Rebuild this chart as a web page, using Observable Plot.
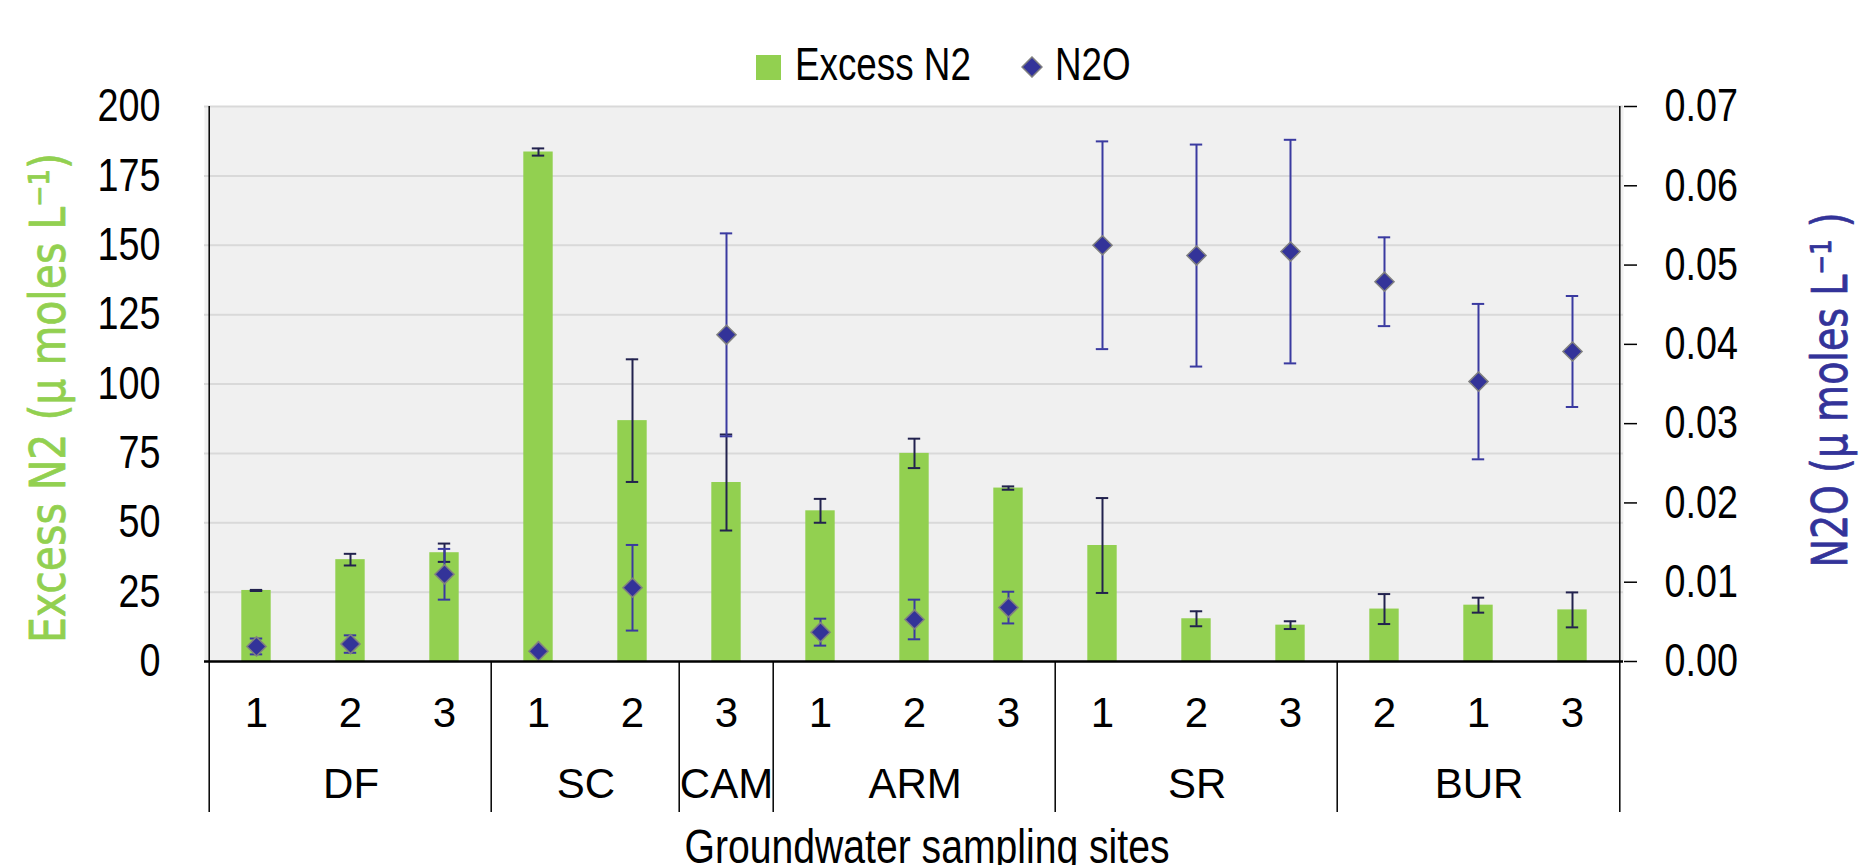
<!DOCTYPE html>
<html>
<head>
<meta charset="utf-8">
<script src="https://cdn.jsdelivr.net/npm/d3@7"></script>
<script src="https://cdn.jsdelivr.net/npm/@observablehq/plot@0.6"></script>
<style>
  html, body { margin: 0; padding: 0; background: #fff; }
  #wrap { position: relative; width: 1864px; height: 865px; overflow: hidden; }
  #legend { position: absolute; left: 0; top: 0; width: 1864px; height: 100px; font-family: "Liberation Sans", Arial, sans-serif; font-size: 46px; color: #000; }
  .lg { position: absolute; line-height: 1; white-space: nowrap; }
  .nar { transform: scaleX(0.8); transform-origin: 0 0; }
</style>
</head>
<body>
<div id="wrap">
  <div id="chart"></div>
  <div id="legend">
    <div class="lg" style="left:756px; top:55px; width:25px; height:25px; background:#92d050;"></div>
    <div class="lg nar" style="left:795px; top:41px;">Excess N2</div>
    <svg class="lg" style="left:1021px; top:56px;" width="22" height="22"><polygon points="11,1 21,11 11,21 1,11" fill="#333399" stroke="#808080" stroke-width="1.5"/></svg>
    <div class="lg nar" style="left:1055px; top:41px;">N2O</div>
  </div>
</div>
<script>
// ---- data ----
const sites = ["DF","DF","DF","SC","SC","CAM","ARM","ARM","ARM","SR","SR","SR","BUR","BUR","BUR"];
const sampleNums = ["1","2","3","1","2","3","1","2","3","1","2","3","2","1","3"];
const excessN2 = [25.6, 36.7, 39.2, 183.6, 86.8, 64.5, 54.3, 75.0, 62.5, 41.8, 15.4, 13.1, 18.9, 20.3, 18.6];
const excessN2Err = [0.2, 2.1, 3.3, 1.3, 22.1, 17.3, 4.3, 5.3, 0.6, 17.1, 2.7, 1.4, 5.4, 2.7, 6.3];
const n2o = [0.0019, 0.0022, 0.0110, 0.0013, 0.0093, 0.0412, 0.0037, 0.0053, 0.0068, 0.0525, 0.0512, 0.0517, 0.0479, 0.0353, 0.0391];
const n2oErr = [0.0010, 0.0011, 0.0032, 0.0002, 0.0054, 0.0128, 0.0017, 0.0025, 0.0020, 0.0131, 0.0140, 0.0141, 0.0056, 0.0098, 0.0070];
const n2Ticks = [0, 25, 50, 75, 100, 125, 150, 175, 200];
const n2oTicks = [0, 0.01, 0.02, 0.03, 0.04, 0.05, 0.06, 0.07];
const leftTitle = "Excess N2 (µ moles L⁻¹)";
const rightTitle = "N2O (µ moles L⁻¹ )";
const xTitle = "Groundwater sampling sites";

// ---- derived ----
const n2Max = 200, n2oMax = 0.07, k = n2Max / n2oMax;
const keys = sites.map((s, i) => s + "-" + i);
const numByKey = new Map(keys.map((key, i) => [key, sampleNums[i]]));
const rows = keys.map((key, i) => ({
  key, n2: excessN2[i], n2lo: excessN2[i] - excessN2Err[i], n2hi: excessN2[i] + excessN2Err[i],
  n2o: n2o[i] * k, n2olo: (n2o[i] - n2oErr[i]) * k, n2ohi: (n2o[i] + n2oErr[i]) * k
}));
const groups = [];
sites.forEach((s, i) => {
  if (groups.length && groups[groups.length - 1].name === s) groups[groups.length - 1].n++;
  else groups.push({name: s, first: i, n: 1});
});

const W = 1864, H = 865, mL = 204, mR = 241, mT = 106, mB = 204;
const step = (W - mL - mR) / keys.length;
const frameH = H - mT - mB;
const capInset = (step - 13) / 2;
const barInset = (step - 30) / 2;
const regular = "'Liberation Sans', Arial, sans-serif";
const titleFont = "'DejaVu Sans', sans-serif";
const n2ErrColor = "#22224e", n2oErrColor = "#3a3aa0";

const dividerOpts = {insetTop: frameH, insetBottom: -151, stroke: "#000", strokeWidth: 1.5};

const plot = Plot.plot({
  width: W, height: H, marginLeft: mL, marginRight: mR, marginTop: mT, marginBottom: mB,
  style: {background: "transparent", fontFamily: regular, color: "#000"},
  x: {type: "band", domain: keys, padding: 0, axis: null},
  y: {domain: [0, n2Max], axis: null},
  marks: [
    Plot.frame({fill: "#f0f0f0", stroke: null}),
    Plot.ruleY(n2Ticks.filter(d => d > 0), {stroke: "#d9d9d9", strokeWidth: 2}),
    Plot.barY(rows, {x: "key", y: "n2", fill: "#92d050", insetLeft: barInset, insetRight: barInset}),
    // Excess N2 error bars
    Plot.ruleX(rows, {x: "key", y1: "n2lo", y2: "n2hi", stroke: n2ErrColor, strokeWidth: 2}),
    Plot.tickY(rows, {x: "key", y: "n2hi", stroke: n2ErrColor, strokeWidth: 2, insetLeft: capInset, insetRight: capInset}),
    Plot.tickY(rows, {x: "key", y: "n2lo", stroke: n2ErrColor, strokeWidth: 2, insetLeft: capInset, insetRight: capInset}),
    // N2O error bars
    Plot.ruleX(rows, {x: "key", y1: "n2olo", y2: "n2ohi", stroke: n2oErrColor, strokeWidth: 2}),
    Plot.tickY(rows, {x: "key", y: "n2ohi", stroke: n2oErrColor, strokeWidth: 2, insetLeft: capInset, insetRight: capInset}),
    Plot.tickY(rows, {x: "key", y: "n2olo", stroke: n2oErrColor, strokeWidth: 2, insetLeft: capInset, insetRight: capInset}),
    Plot.dot(rows, {x: "key", y: "n2o", symbol: "diamond2", r: 8.6, fill: "#333399", stroke: "#808080", strokeWidth: 1.5}),
    // baseline
    Plot.ruleY([0], {stroke: "#000", strokeWidth: 2.5}),
    // axes
    Plot.axisY({ticks: n2Ticks, tickSize: 0, tickPadding: 44, fontSize: 46, label: null, ariaLabel: "narrow-y"}),
    Plot.axisY({anchor: "right", ticks: n2oTicks.map(v => v * k), tickFormat: d => (d / k).toFixed(2),
      tickSize: 13, tickPadding: 28, fontSize: 46, label: null, strokeWidth: 1.5, ariaLabel: "narrow-y2"}),
    Plot.axisX({tickSize: 0, tickPadding: 36, tickFormat: key => numByKey.get(key), fontSize: 42, label: null}),
    // axis lines and group dividers
    Plot.ruleX([keys[0]], {x: d => d, dx: -step / 2, insetBottom: -151, stroke: "#000", strokeWidth: 1.5}),
    Plot.ruleX([keys[keys.length - 1]], {x: d => d, dx: step / 2, insetBottom: -151, stroke: "#000", strokeWidth: 1.5}),
    Plot.ruleX(groups.slice(1).map(g => keys[g.first]), {x: d => d, dx: -step / 2, ...dividerOpts}),
    // group labels
    ...groups.map(g => Plot.text([g], {x: () => keys[g.first], frameAnchor: "bottom", dy: 136, dx: (g.n - 1) / 2 * step,
      text: d => d.name, fontSize: 42, fill: "#000"})),
    // titles
    Plot.text([xTitle], {frameAnchor: "bottom", lineAnchor: "top", dy: 167, dx: 13, text: d => d, fontSize: 48, fill: "#000"}),
    Plot.text([leftTitle], {frameAnchor: "left", textAnchor: "middle", dx: -156, dy: 14, rotate: -90, text: d => d, fontSize: 50,
      fontFamily: titleFont, fill: "#92d050", stroke: "#92d050", strokeWidth: 0.8}),
    Plot.text([rightTitle], {frameAnchor: "right", textAnchor: "middle", dx: 207, dy: 6, rotate: -90, text: d => d, fontSize: 50,
      fontFamily: titleFont, fill: "#333399", stroke: "#333399", strokeWidth: 0.8})
  ]
});
document.getElementById("chart").appendChild(plot);
// condensed look of the reference's narrow typeface
function squeeze(t, len) { t.setAttribute("textLength", len); t.setAttribute("lengthAdjust", "spacingAndGlyphs"); }
plot.querySelectorAll('g[aria-label^="narrow-y"] text').forEach(t => squeeze(t, t.getComputedTextLength() * 0.82));
plot.querySelectorAll("text").forEach(t => {
  if (t.textContent === leftTitle) squeeze(t, 490);
  if (t.textContent === rightTitle) squeeze(t, 355);
  if (t.textContent === xTitle) squeeze(t, 485);
});
</script>
</body>
</html>
